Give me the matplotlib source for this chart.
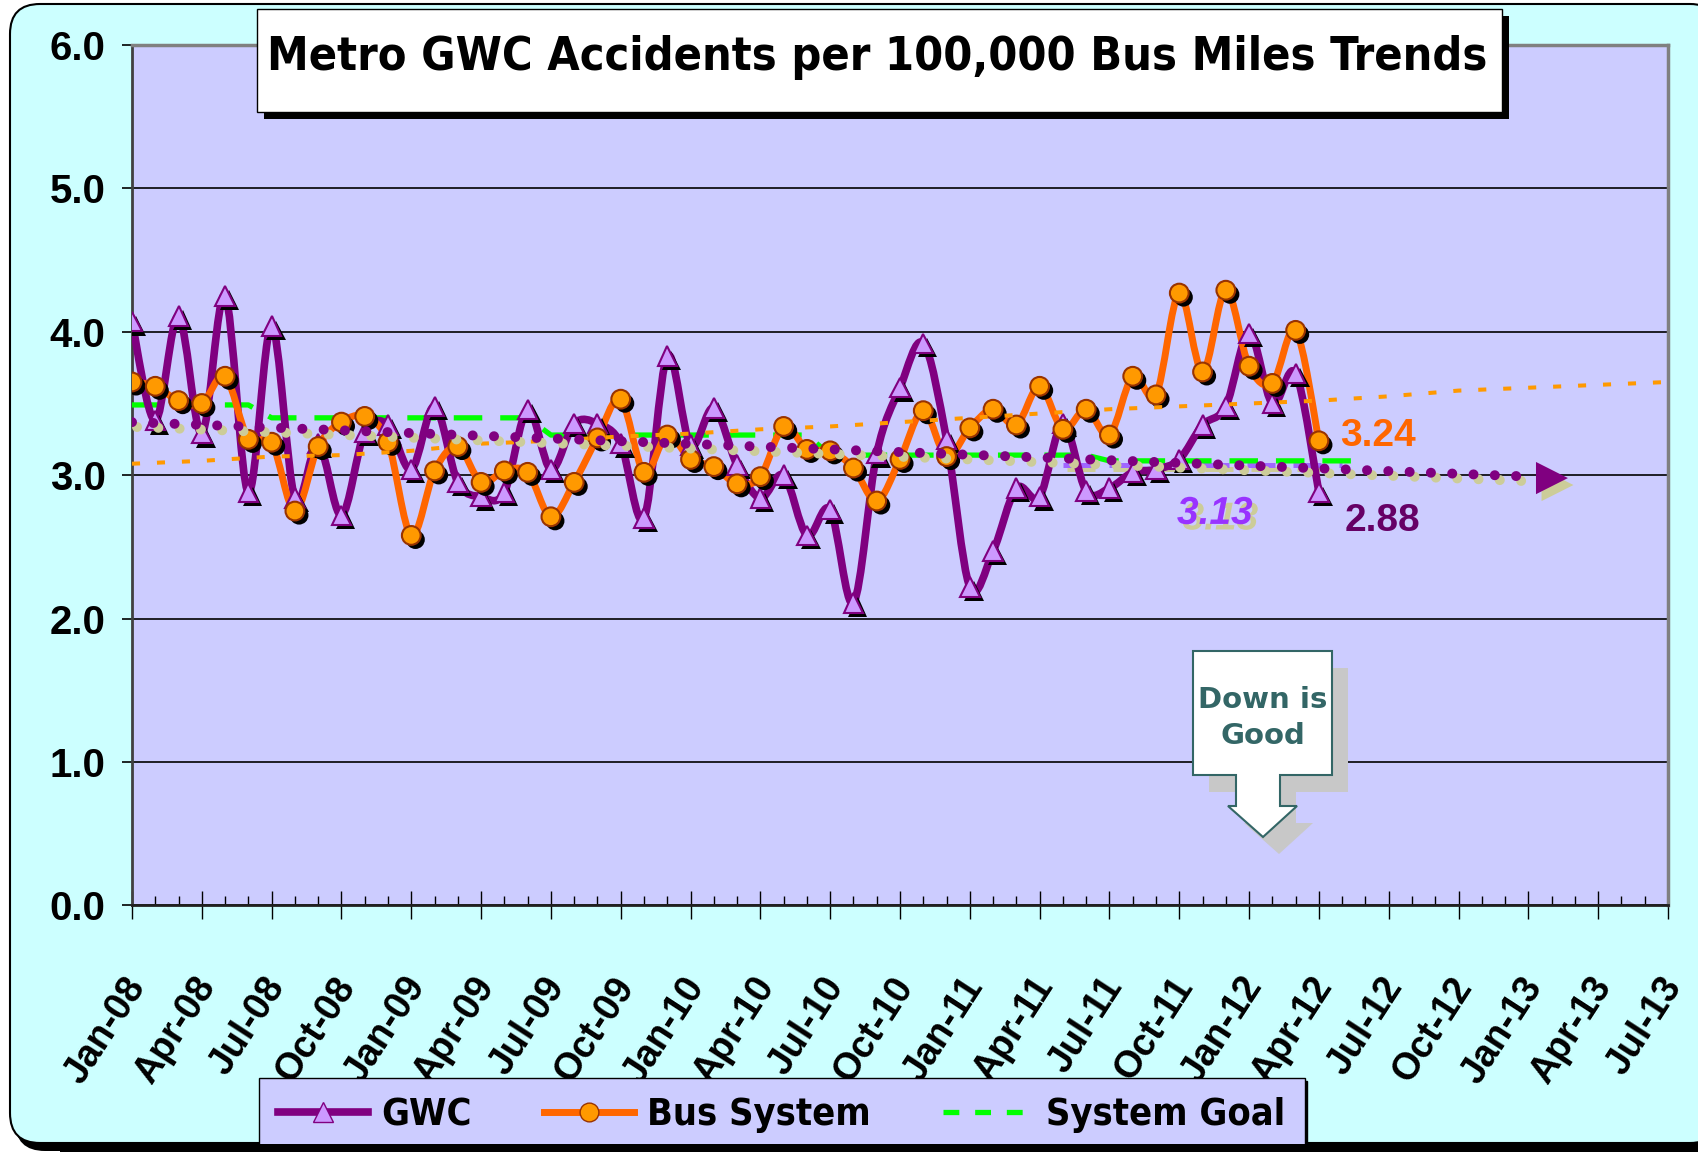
import numpy as np
import matplotlib
matplotlib.use("Agg")
import matplotlib.pyplot as plt
import matplotlib.patheffects as pe
from matplotlib import font_manager
from matplotlib.path import Path
from matplotlib.patches import PathPatch, FancyBboxPatch, Rectangle, Polygon
from matplotlib.lines import Line2D
from matplotlib.transforms import ScaledTranslation

# ---- data (month index 0 = Jan-08) ----
gwc = [4.07, 3.38, 4.11, 3.29, 4.25, 2.88, 4.04, 2.84, 3.22, 2.72,
       3.30, 3.35, 3.04, 3.48, 2.95, 2.85, 2.88, 3.46, 3.04, 3.36,
       3.36, 3.22, 2.70, 3.83, 3.21, 3.47, 3.07, 2.84, 3.00, 2.58,
       2.76, 2.11, 3.15, 3.61, 3.92, 3.25, 2.22, 2.47, 2.91, 2.85,
       3.36, 2.89, 2.91, 3.02, 3.04, 3.11, 3.35, 3.48, 3.99, 3.50,
       3.71, 2.88]
bus = [3.65, 3.62, 3.52, 3.50, 3.69, 3.25, 3.23, 2.75, 3.20, 3.37,
       3.41, 3.23, 2.58, 3.03, 3.20, 2.95, 3.03, 3.02, 2.71, 2.95,
       3.26, 3.53, 3.02, 3.28, 3.11, 3.06, 2.94, 2.99, 3.34, 3.18,
       3.17, 3.05, 2.82, 3.11, 3.45, 3.13, 3.33, 3.46, 3.35, 3.62,
       3.32, 3.46, 3.28, 3.69, 3.56, 4.27, 3.72, 4.29, 3.76, 3.64,
       4.01, 3.24]
# system goal by fiscal year (Jul-Jun), months covered per year
goal_fy = [3.49, 3.40, 3.28, 3.14, 3.10]
goal_fy_months = [6, 12, 12, 12, 12]
# GWC goal segment
gwc_goal_months = [40, 52]
gwc_goal = [3.07, 3.07]
# trend lines
bus_trend_months = [0, 3, 6, 9, 12, 15, 18, 21, 24, 27, 30, 33, 36, 39, 42,
                    45, 48, 51, 54, 57, 60, 63, 66]
bus_trend = [3.08, 3.10, 3.13, 3.14, 3.17, 3.22, 3.24, 3.27, 3.29, 3.32, 3.34,
             3.37, 3.40, 3.43, 3.46, 3.48, 3.50, 3.52, 3.55, 3.59, 3.61, 3.63, 3.65]
gwc_trend_months = [0, 61.7]
gwc_trend = [3.37, 2.98]

tick_labels = ['Jan-08', 'Apr-08', 'Jul-08', 'Oct-08', 'Jan-09', 'Apr-09', 'Jul-09',
               'Oct-09', 'Jan-10', 'Apr-10', 'Jul-10', 'Oct-10', 'Jan-11', 'Apr-11',
               'Jul-11', 'Oct-11', 'Jan-12', 'Apr-12', 'Jul-12', 'Oct-12', 'Jan-13',
               'Apr-13', 'Jul-13']

PURPLE = '#800080'
ORANGE = '#FF6600'
GREEN = '#00FF00'
BEIGE = '#CCCC99'

W, H = 1698, 1152


def smooth_path(xs, ys):
    """Excel-like smoothed line as cubic Bezier segments."""
    pts = np.column_stack([xs, ys]).astype(float)
    n = len(pts)
    verts = [pts[0]]
    codes = [Path.MOVETO]
    for i in range(n - 1):
        p0 = pts[max(i - 1, 0)]
        p1 = pts[i]
        p2 = pts[i + 1]
        p3 = pts[min(i + 2, n - 1)]
        verts += [p1 + (p2 - p0) / 6, p2 - (p3 - p1) / 6, p2]
        codes += [Path.CURVE4] * 3
    return Path(verts, codes)


def px_box(x0, y0, x1, y1):
    # pixel box (from top-left) -> inches for dpi_scale_trans
    return x0 / 100, (H - y1) / 100, (x1 - x0) / 100, (y1 - y0) / 100


def narrow_font():
    """Bold condensed font if one is installed, else bold Liberation Sans."""
    prefs = ['Liberation Sans Narrow', 'Arial Narrow', 'DejaVu Sans', 'Roboto Condensed',
             'Open Sans Condensed', 'Noto Sans']
    found = [f for f in font_manager.fontManager.ttflist
             if f.weight in (700, 'bold') and
             ('Narrow' in f.name or 'Condensed' in f.name or 'condensed' in str(f.stretch)
              or 'Condensed' in f.fname or 'Narrow' in f.fname)]
    found.sort(key=lambda f: min([i for i, p in enumerate(prefs) if f.name.startswith(p)] or [99]))
    if found:
        return font_manager.FontProperties(fname=found[0].fname)
    return font_manager.FontProperties(family='Liberation Sans', weight='bold')


plt.rcParams['font.family'] = ['Liberation Sans', 'DejaVu Sans']
plt.rcParams['font.weight'] = 'bold'
NARROW = narrow_font()

fig = plt.figure(figsize=(W / 100, H / 100), dpi=100)
fig.patch.set_facecolor('white')
renderer = fig.canvas.get_renderer()


def fit_size(text, target_px, fp):
    t = fig.text(0, 0, text, fontproperties=fp, fontsize=20)
    wpx = t.get_window_extent(renderer).width
    t.remove()
    return 20 * target_px / wpx


# rounded chart background with shadow
x, y, w, h = px_box(10, 4, 1720, 1143)
fig.patches.append(FancyBboxPatch((x + 0.05, y - 0.08), w, h, boxstyle='round,pad=0,rounding_size=0.3',
                                  transform=fig.dpi_scale_trans, facecolor='black', edgecolor='none', zorder=-3))
fig.patches.append(FancyBboxPatch((x, y), w, h, boxstyle='round,pad=0,rounding_size=0.3',
                                  transform=fig.dpi_scale_trans, facecolor='#CCFFFF', edgecolor='black',
                                  lw=1.5, zorder=-2))
# bottom shadow strip drawn over the legend, as in the original
x, y, w, h = px_box(60, 1144, 1698, 1152)
fig.patches.append(Rectangle((x, y), w, h, transform=fig.dpi_scale_trans, facecolor='black',
                             edgecolor='none', zorder=20))

ax = fig.add_axes([132 / W, 1 - 905.4 / H, (1668 - 132) / W, (905.4 - 45) / H])
ax.set_facecolor('#CCCCFF')

months = np.arange(len(gwc))

# system goal
goal = np.repeat(goal_fy, goal_fy_months)
ax.plot(np.arange(len(goal)), goal, color=GREEN, lw=3.8, ls=(0, (5.4, 3.4)), zorder=3)

# GWC goal segment (light purple with shadow)
ax.plot(gwc_goal_months, gwc_goal, color='#A066FF', lw=3.6, ls=(0, (5.6, 3.6)), zorder=2.5,
        path_effects=[pe.SimpleLineShadow(offset=(3, -3), shadow_color=BEIGE, alpha=1), pe.Normal()])

# smoothed data lines
ax.add_patch(PathPatch(smooth_path(months, gwc), facecolor='none', edgecolor=PURPLE, lw=5.5,
                       capstyle='round', joinstyle='round', zorder=4))
ax.add_patch(PathPatch(smooth_path(months, bus), facecolor='none', edgecolor=ORANGE, lw=5,
                       capstyle='round', joinstyle='round', zorder=5))

shadow = [pe.SimplePatchShadow(offset=(3, -3), shadow_rgbFace='black', alpha=1), pe.Normal()]
ax.plot(months, gwc, ls='none', marker='^', ms=14, mfc='#CC99FF', mec=PURPLE, mew=1.5,
        zorder=6, path_effects=shadow)
ax.plot(months, bus, ls='none', marker='o', ms=13.5, mfc='#FF9900', mec='#993300', mew=1.5,
        zorder=7, path_effects=shadow)

# trend lines
ax.plot(bus_trend_months, bus_trend, color='#FF9900', lw=2.9, ls=(0, (2.0, 4.2)), zorder=8)
tx = [gwc_trend_months[0], gwc_trend_months[1] - 1.9]
ty = np.interp(tx, gwc_trend_months, gwc_trend)
ax.plot(tx, ty, color=PURPLE, lw=7.2, ls=(0, (0.001, 2.13)), dash_capstyle='round', zorder=8,
        path_effects=[pe.SimpleLineShadow(offset=(3.6, -3.5), shadow_color=BEIGE, alpha=1), pe.Normal()])
arr = ax.annotate('', xy=(gwc_trend_months[1], gwc_trend[1]), xytext=(gwc_trend_months[1] - 1.45, gwc_trend[1]),
                  arrowprops=dict(arrowstyle='-|>,head_length=1.15,head_width=0.58', mutation_scale=20,
                                  color=PURPLE, lw=0, shrinkA=0, shrinkB=0), zorder=8)
arr.arrow_patch.set_path_effects([pe.SimplePatchShadow(offset=(4, -5), shadow_rgbFace=BEIGE, alpha=1), pe.Normal()])

# value labels
ax.text(51.9, 3.27, f'{bus[-1]:.2f}', color=ORANGE, fontsize=28, fontweight='bold', va='center', zorder=9)
ax.text(52.1, 2.68, f'{gwc[-1]:.2f}', color='#660066', fontsize=28, fontweight='bold', va='center', zorder=9)
ax.text(44.9, 2.73, '3.13', color='#9933FF', fontsize=28, fontweight='bold', style='italic', va='center',
        zorder=9, path_effects=[pe.SimplePatchShadow(offset=(4, -4), shadow_rgbFace=BEIGE, alpha=1), pe.Normal()])

# axes styling
ax.set_xlim(0, 66)
ax.set_ylim(0, 6)
ax.set_yticks(np.arange(0, 7, 1))
ax.set_yticklabels([f'{v:.1f}' for v in range(7)])
ax.set_xticks(np.arange(0, 67, 3))
ax.set_xticks(np.arange(0, 67, 1), minor=True)
ax.set_xticklabels(tick_labels, rotation=57, ha='right', va='center', rotation_mode='anchor')
ax.grid(axis='y', color='black', lw=1.2, zorder=1)
ax.set_axisbelow(True)
ax.tick_params(axis='y', labelsize=29, length=7, width=1.2, pad=12, direction='out')
ax.tick_params(axis='x', which='major', labelsize=27, length=20, width=1, direction='inout', pad=44)
ax.tick_params(axis='x', which='minor', length=6.5, width=1, direction='in')
shift = ScaledTranslation(0.06, 0, fig.dpi_scale_trans)
for lbl in ax.get_xticklabels():
    lbl.set_transform(lbl.get_transform() + shift)
for s in ['top', 'right']:
    ax.spines[s].set_color('#808080')
    ax.spines[s].set_linewidth(2.5)
ax.spines['left'].set_color('#404040')
ax.spines['left'].set_linewidth(2)
ax.spines['bottom'].set_color('#202020')
ax.spines['bottom'].set_linewidth(2)

# title box
x, y, w, h = px_box(257, 9, 1502, 112)
fig.patches.append(Rectangle((x + 0.07, y - 0.07), w, h, transform=fig.dpi_scale_trans,
                             facecolor='black', edgecolor='none', zorder=4))
fig.patches.append(Rectangle((x, y), w, h, transform=fig.dpi_scale_trans,
                             facecolor='white', edgecolor='black', lw=1, zorder=4.5))
title_text = 'Metro GWC Accidents per 100,000 Bus Miles Trends'
fig.text(877 / W, 1 - 57 / H, title_text, fontproperties=NARROW,
         fontsize=min(46, fit_size(title_text, 1224, NARROW)), ha='center', va='center', zorder=5)

# "Down is Good" callout
callout = [(1193, 651), (1332, 651), (1332, 775), (1280, 775), (1280, 806), (1297, 806),
           (1263, 837), (1228, 806), (1236, 806), (1236, 775), (1193, 775)]
sh = [((cx + 16) / 100, (H - cy - 17) / 100) for cx, cy in callout]
fig.patches.append(Polygon(sh, closed=True, transform=fig.dpi_scale_trans, facecolor='#C8C8C8',
                           edgecolor='none', zorder=3))
fig.patches.append(Polygon([(cx / 100, (H - cy) / 100) for cx, cy in callout], closed=True,
                           transform=fig.dpi_scale_trans, facecolor='white', edgecolor='#336666',
                           lw=1.5, zorder=3.5))
fig.text(1263 / W, 1 - 718 / H, 'Down is\nGood', family='DejaVu Sans', fontsize=21, fontweight='bold',
         color='#336666', ha='center', va='center', linespacing=1.35, zorder=4)

# legend
leg_font = NARROW.copy()
leg_font.set_size(min(32, fit_size('Bus System', 223, NARROW)))
handles = [Line2D([], [], color=PURPLE, lw=5.5, marker='^', ms=14, mfc='#CC99FF', mec=PURPLE),
           Line2D([], [], color=ORANGE, lw=5, marker='o', ms=13.5, mfc='#FF9900', mec='#993300'),
           Line2D([], [], color=GREEN, lw=3.8, ls=(0, (3, 3)))]
leg = fig.legend(handles, ['GWC', 'Bus System', 'System Goal'], loc='lower left',
                 bbox_to_anchor=(259 / W, 0.0), ncol=3, borderaxespad=0, prop=leg_font,
                 frameon=True, fancybox=False, edgecolor='black', facecolor='#CCCCFF', framealpha=1,
                 handlelength=2.4, handletextpad=0.35, columnspacing=1.9, borderpad=0.5,
                 shadow={'color': 'black', 'alpha': 1})
leg.get_frame().set_linewidth(1)

fig.savefig('out.png', dpi=100)
